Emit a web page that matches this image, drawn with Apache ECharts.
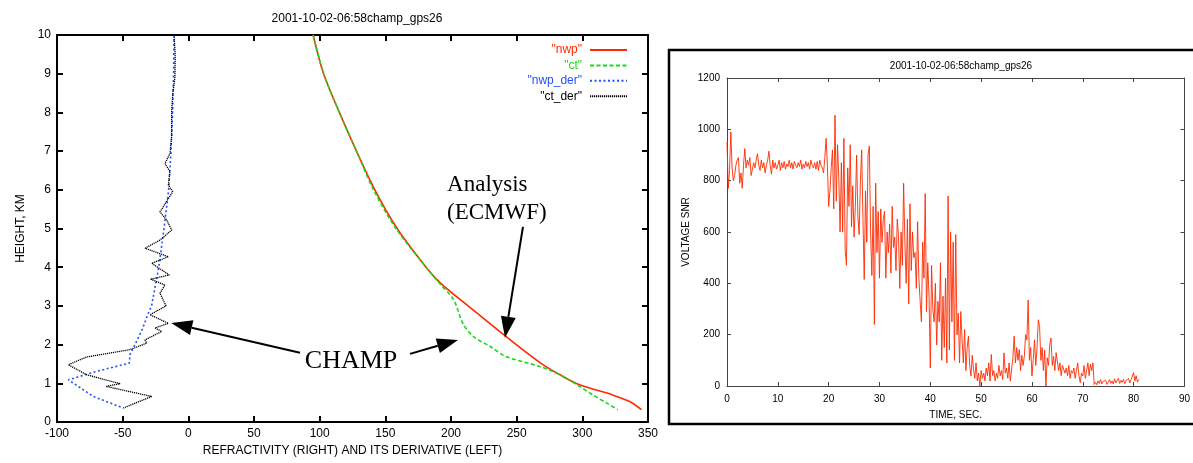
<!DOCTYPE html>
<html>
<head>
<meta charset="utf-8">
<script src="https://cdn.jsdelivr.net/npm/echarts@6/dist/echarts.min.js"></script>
<style>
html,body{margin:0;padding:0;background:#fff;}
#c{width:1193px;height:463px;}
</style>
</head>
<body>
<div id="c"></div>
<script>
// ---------- data ----------
const TITLE = '2001-10-02-06:58champ_gps26';

// Left panel: refractivity profiles (height km, value)
const nwpHeight = [10, 9, 8, 7, 6, 5, 4, 3.59, 3, 2.89, 2.18, 1.53, 1.22, 0.96, 0.7, 0.53, 0.32];
const nwpValue  = [95, 103, 115, 128, 142, 159, 181, 192, 213, 217, 243, 268, 283, 298, 323, 336, 345];

const ctHeight = [10, 9, 8, 7, 6, 5, 4, 3.59, 3.16, 2.55, 2.21, 1.95, 1.69, 1.43, 1.22, 0.96, 0.7, 0.5, 0.32];
const ctValue  = [95, 103, 115, 128, 141, 158, 181, 191, 202, 209, 217, 230, 242, 268, 283, 296, 308, 318, 327];

const nwpDerHeight = [10, 9, 8, 7, 6, 5, 4, 3, 2.81, 2.4, 2.0, 1.74, 1.52, 1.31, 1.09, 0.66, 0.36];
const nwpDerValue  = [-10.9, -11.2, -12, -13.2, -15, -18.5, -22.5, -28, -30.5, -35, -40.6, -44.4, -45, -69.8, -91.3, -72.4, -49.5];

const ctDerHeight = [10, 9.5, 8.92, 8.5, 8.02, 7.37, 6.94, 6.68, 6.47, 6.12, 5.95, 5.43, 5.22, 4.96, 4.70, 4.49, 4.27, 4.10, 3.80, 3.69, 3.54, 3.33, 3.0, 2.77, 2.55, 2.43, 2.34, 2.12, 2.04, 1.87, 1.68, 1.48, 1.22, 0.99, 0.92, 0.66, 0.36];
const ctDerValue  = [-10.9, -10, -10.2, -11.8, -12.7, -12.7, -14, -17.8, -14, -15.2, -11.9, -21.6, -16.5, -12.7, -21.6, -33, -15.2, -27.9, -14.5, -28.7, -17.8, -21.6, -17, -29.2, -15.2, -25.4, -20.3, -33, -31.7, -44.4, -77.4, -91.4, -77.4, -52, -62.7, -27.9, -49.5];

// Right panel: voltage SNR sampled every 0.25 s from t = 0
const SNR_T0 = 0;
const SNR_DT = 0.25;
const snrValues = [
  950, 770, 840, 990, 850, 800, 820, 860, 880, 890, 790, 830, 770, 860, 925, 850, 880, 860, 890, 820,
  815, 870, 850, 880, 905, 860, 840, 880, 850, 870, 830, 860, 880, 915, 860, 825, 880, 850, 870, 845,
  860, 880, 840, 870, 850, 875, 845, 865, 855, 880, 850, 870, 845, 875, 860, 850, 870, 855, 880, 845,
  865, 850, 875, 855, 870, 845, 880, 860, 850, 870, 845, 875, 840, 880, 860, 850, 830, 890, 965, 860,
  700, 760, 850, 920, 690, 1055, 720, 940, 810, 600, 870, 600, 965, 530, 470, 850, 700, 940, 620, 780,
  580, 700, 900, 660, 590, 800, 920, 650, 415, 760, 560, 900, 935, 600, 430, 700, 240, 790, 520, 680,
  420, 690, 560, 650, 680, 420, 600, 520, 630, 440, 700, 540, 580, 450, 650, 580, 380, 600, 470, 790,
  560, 400, 650, 320, 710, 450, 600, 500, 520, 380, 640, 420, 330, 250, 560, 420, 750, 290, 480, 350,
  70, 470, 300, 250, 400, 160, 330, 250, 480, 100, 350, 150, 420, 90, 740, 140, 600, 250, 560, 100,
  590, 200, 284, 90, 290, 180, 90, 220, 60, 150, 194, 80, 39, 120, 65, 30, 90, 20, 50, 0,
  60, 30, 50, 20, 70, 40, 90, 19, 123, 40, 60, 20, 50, 30, 80, 40, 60, 25, 129, 50,
  70, 30, 90, 19, 13, 110, 194, 90, 150, 100, 142, 60, 120, 80, 116, 200, 180, 335, 100, 150,
  39, 103, 180, 80, 150, 258, 232, 100, 150, 60, 140, 0, 110, 80, 160, 187, 80, 116, 60, 130,
  123, 60, 90, 40, 80, 77, 50, 70, 40, 80, 30, 60, 50, 70, 30, 60, 90, 40, 13, 50,
  39, 80, 30, 60, 90, 40, 85, 60, 90, 6, 15, 5, 20, 10, 25, 8, 18, 12, 22, 6,
  15, 25, 10, 20, 8, 28, 12, 18, 30, 10, 22, 14, 26, 9, 20, 15, 30, 12, 25, 18,
  52, 20, 40, 15, 25
];

// Annotations (data coordinates of the left panel)
const annotationArrows = [
  { from: [85, 1.79], to: [-13, 2.56] },
  { from: [168.8, 1.76], to: [205.3, 2.12] },
  { from: [254.8, 5.04], to: [241.1, 2.18] }
];
const annotationTexts = [
  { text: 'CHAMP', at: [123.9, 1.56], align: 'center' },
  { text: 'Analysis', at: [197, 6.13], align: 'left' },
  { text: '(ECMWF)', at: [197, 5.41], align: 'left' }
];

// ---------- chart ----------
const pair = (xs, ys) => xs.map((x, i) => [x, ys[i]]);
const FONT = 'Liberation Sans';
const RED = '#ff2a00', GREEN = '#19d919', BLUE = '#2050ff', BLACK = '#000';
const NONE = 'rgba(0,0,0,0)';

const chart = echarts.init(document.getElementById('c'), null, { renderer: 'canvas' });

const leftAxisCommon = {
  axisLine: { show: true, onZero: false, lineStyle: { color: '#000', width: 2 } },
  axisTick: { show: true, inside: true, length: 6, lineStyle: { color: '#000', width: 2 } },
  splitLine: { show: false }
};
const rightAxisCommon = {
  axisLine: { show: true, onZero: false, lineStyle: { color: '#444', width: 1 } },
  axisTick: { show: true, inside: true, length: 4, lineStyle: { color: '#444', width: 1 } },
  splitLine: { show: false }
};
const plain = v => String(v);

const option = {
  animation: false,
  backgroundColor: '#fff',
  title: [
    { text: TITLE, left: 352, top: 8, textAlign: 'center',
      textStyle: { fontFamily: FONT, fontSize: 12, fontWeight: 'normal', color: '#000' } },
    { text: TITLE, left: 956, top: 56, textAlign: 'center',
      textStyle: { fontFamily: FONT, fontSize: 10, fontWeight: 'normal', color: '#000' } }
  ],
  legend: {
    orient: 'vertical', right: 560, top: 39, align: 'right',
    itemWidth: 37, itemHeight: 10, itemGap: 3.4,
    itemStyle: { color: NONE, borderColor: NONE, borderWidth: 0 },
    textStyle: { fontFamily: FONT, fontSize: 12, padding: [0, 3, 0, 0] },
    data: [
      { name: '"nwp"', textStyle: { color: RED } },
      { name: '"ct"', textStyle: { color: GREEN } },
      { name: '"nwp_der"', textStyle: { color: BLUE } },
      { name: '"ct_der"', textStyle: { color: BLACK } }
    ]
  },
  grid: [
    { left: 57, right: 545, top: 35, bottom: 41 },
    { left: 727, right: 7, top: 78, bottom: 77 }
  ],
  xAxis: [
    Object.assign({}, leftAxisCommon, {
      type: 'value', gridIndex: 0, position: 'bottom', min: -100, max: 350, interval: 50,
      name: 'REFRACTIVITY (RIGHT) AND ITS DERIVATIVE (LEFT)', nameLocation: 'middle', nameGap: 23,
      nameTextStyle: { fontFamily: FONT, fontSize: 12, color: '#000' },
      axisLabel: { fontFamily: FONT, fontSize: 12, color: '#000', margin: 6, formatter: plain }
    }),
    Object.assign({}, leftAxisCommon, {
      type: 'value', gridIndex: 0, position: 'top', min: -100, max: 350, interval: 50,
      axisLabel: { show: false }
    }),
    Object.assign({}, rightAxisCommon, {
      type: 'value', gridIndex: 1, position: 'bottom', min: 0, max: 90, interval: 10,
      name: 'TIME, SEC.', nameLocation: 'middle', nameGap: 24,
      nameTextStyle: { fontFamily: FONT, fontSize: 10, color: '#000' },
      axisLabel: { fontFamily: FONT, fontSize: 10, color: '#000', margin: 8, formatter: plain }
    }),
    Object.assign({}, rightAxisCommon, {
      type: 'value', gridIndex: 1, position: 'top', min: 0, max: 90, interval: 10,
      axisLabel: { show: false }
    })
  ],
  yAxis: [
    Object.assign({}, leftAxisCommon, {
      type: 'value', gridIndex: 0, position: 'left', min: 0, max: 10, interval: 1,
      name: 'HEIGHT, KM', nameLocation: 'middle', nameGap: 30,
      nameTextStyle: { fontFamily: FONT, fontSize: 12, color: '#000' },
      axisLabel: { fontFamily: FONT, fontSize: 12, color: '#000', margin: 6, formatter: plain }
    }),
    Object.assign({}, leftAxisCommon, {
      type: 'value', gridIndex: 0, position: 'right', min: 0, max: 10, interval: 1,
      axisLabel: { show: false }
    }),
    Object.assign({}, rightAxisCommon, {
      type: 'value', gridIndex: 1, position: 'left', min: 0, max: 1200, interval: 200,
      name: 'VOLTAGE SNR', nameLocation: 'middle', nameGap: 36,
      nameTextStyle: { fontFamily: FONT, fontSize: 10, color: '#000' },
      axisLabel: { fontFamily: FONT, fontSize: 10, color: '#000', margin: 7, formatter: plain }
    }),
    Object.assign({}, rightAxisCommon, {
      type: 'value', gridIndex: 1, position: 'right', min: 0, max: 1200, interval: 200,
      axisLabel: { show: false }
    })
  ],
  series: [
    { name: '"nwp"', type: 'line', xAxisIndex: 0, yAxisIndex: 0, showSymbol: false, symbol: 'none',
      data: pair(nwpValue, nwpHeight), smooth: 0.3,
      lineStyle: { color: RED, width: 1.6 }, itemStyle: { color: RED }, z: 3 },
    { name: '"ct"', type: 'line', xAxisIndex: 0, yAxisIndex: 0, showSymbol: false, symbol: 'none',
      data: pair(ctValue, ctHeight), smooth: 0.3,
      lineStyle: { color: GREEN, width: 1.6, type: [4, 2.5] }, itemStyle: { color: GREEN }, z: 4 },
    { name: '"nwp_der"', type: 'line', xAxisIndex: 0, yAxisIndex: 0, showSymbol: false, symbol: 'none',
      data: pair(nwpDerValue, nwpDerHeight),
      lineStyle: { color: BLUE, width: 1.6, type: [2, 2.5] }, itemStyle: { color: BLUE }, z: 3 },
    { name: '"ct_der"', type: 'line', xAxisIndex: 0, yAxisIndex: 0, showSymbol: false, symbol: 'none',
      data: pair(ctDerValue, ctDerHeight),
      lineStyle: { color: BLACK, width: 1.3, type: [1.2, 0.8] }, itemStyle: { color: BLACK }, z: 4 },
    { name: 'snr', type: 'line', xAxisIndex: 2, yAxisIndex: 2, showSymbol: false, symbol: 'none',
      data: snrValues.map((v, i) => [SNR_T0 + i * SNR_DT, v]),
      lineStyle: { color: RED, width: 0.9 }, itemStyle: { color: RED } }
  ]
};
chart.setOption(option);

// annotations placed through the left panel's scales
const toPx = (p) => chart.convertToPixel({ xAxisIndex: 0, yAxisIndex: 0 }, p);
const graphics = [];
annotationArrows.forEach(a => {
  const s = toPx(a.from), t = toPx(a.to);
  const dx = t[0] - s[0], dy = t[1] - s[1];
  const len = Math.hypot(dx, dy), ux = dx / len, uy = dy / len;
  const headL = 21, headW = 7.5;
  const bx = t[0] - ux * headL, by = t[1] - uy * headL;
  graphics.push({ type: 'line', silent: true, z: 10,
    shape: { x1: s[0], y1: s[1], x2: bx, y2: by }, style: { stroke: '#000', lineWidth: 2 } });
  graphics.push({ type: 'polygon', silent: true, z: 10,
    shape: { points: [[t[0], t[1]], [bx - uy * headW, by + ux * headW], [bx + uy * headW, by - ux * headW]] },
    style: { fill: '#000' } });
});
annotationTexts.forEach(a => {
  const p = toPx(a.at);
  graphics.push({ type: 'text', silent: true, z: 10, x: p[0], y: p[1],
    style: { text: a.text, fill: '#000', font: (a.text === 'CHAMP' ? '26px' : '23px') + ' "Liberation Serif"',
      textAlign: a.align, textVerticalAlign: 'middle' } });
});
// frame around the right panel (its right edge runs past the canvas, as in the source)
graphics.push({ type: 'rect', silent: true, z: 0,
  shape: { x: 669, y: 50, width: 540, height: 374 }, style: { fill: 'none', stroke: '#000', lineWidth: 2.5 } });
chart.setOption({ graphic: graphics });
</script>
</body>
</html>
